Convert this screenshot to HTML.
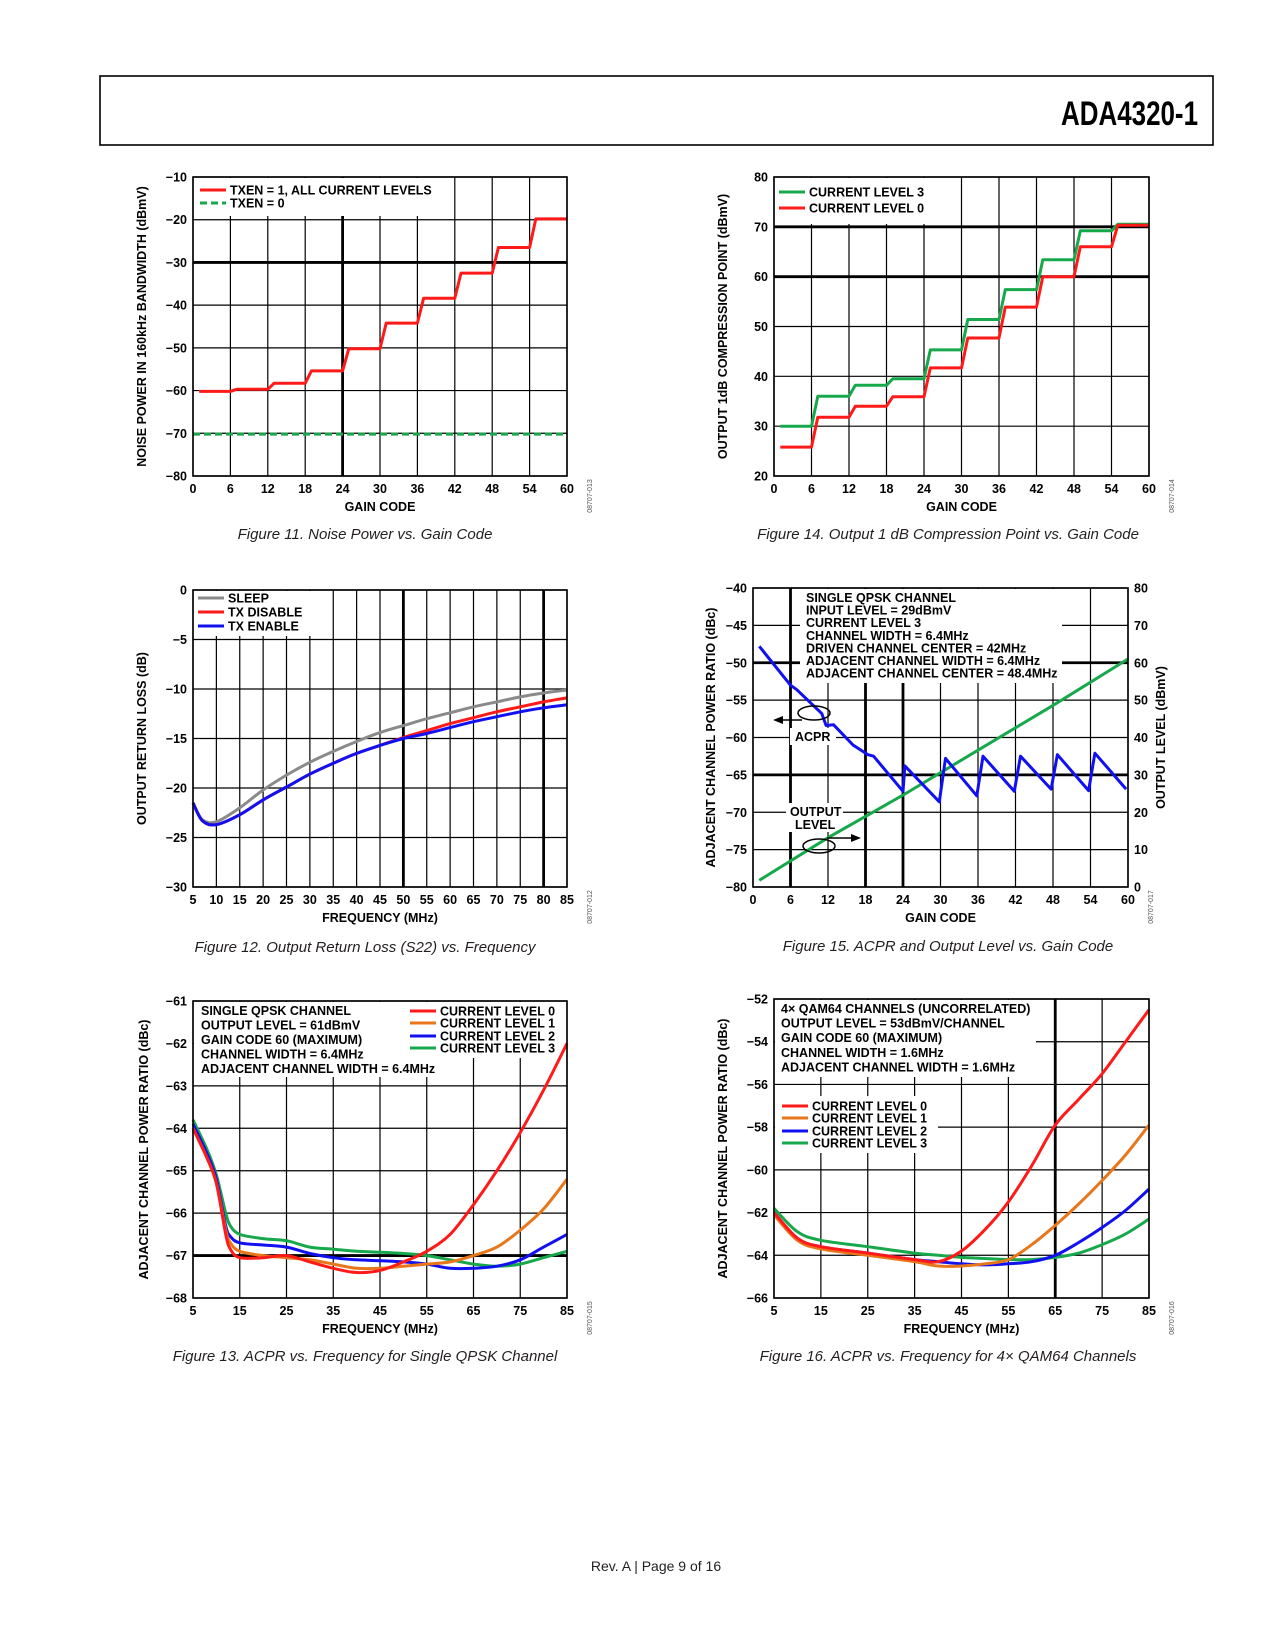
<!DOCTYPE html>
<html><head><meta charset="utf-8"><title>ADA4320-1 page 9</title>
<style>
html,body{margin:0;padding:0;background:#fff;}
svg{display:block;}
text{font-family:"Liberation Sans",sans-serif;}
.b{font-weight:bold;font-size:12.5px;fill:#000;}
.cap{font-style:italic;font-size:15px;fill:#231f20;}
</style></head>
<body>
<svg id="page" width="1275" height="1650" viewBox="0 0 1275 1650" xmlns="http://www.w3.org/2000/svg">
<rect x="100" y="76" width="1113" height="69" fill="none" stroke="#000" stroke-width="1.6"/>
<text x="1198" y="125" text-anchor="end" font-weight="bold" font-size="34" textLength="137" lengthAdjust="spacingAndGlyphs">ADA4320-1</text>
<text x="656" y="1571" text-anchor="middle" font-size="14" fill="#231f20">Rev. A | Page 9 of 16</text>
<text class="cap" x="365" y="539" text-anchor="middle">Figure 11. Noise Power vs. Gain Code</text>
<text class="cap" x="948" y="539" text-anchor="middle">Figure 14. Output 1 dB Compression Point vs. Gain Code</text>
<text class="cap" x="365" y="952" text-anchor="middle">Figure 12. Output Return Loss (S22) vs. Frequency</text>
<text class="cap" x="948" y="951" text-anchor="middle">Figure 15. ACPR and Output Level vs. Gain Code</text>
<text class="cap" x="365" y="1361" text-anchor="middle">Figure 13. ACPR vs. Frequency for Single QPSK Channel</text>
<text class="cap" x="948" y="1361" text-anchor="middle">Figure 16. ACPR vs. Frequency for 4× QAM64 Channels</text>
</svg>
<script>
// ---------- data ----------
const gainTicks=[0,6,12,18,24,30,36,42,48,54,60];
const segStarts=[1,7,13,19,25,31,37,43,49,55];
const fig11Noise=[-60.2,-59.7,-58.3,-55.4,-50.2,-44.2,-38.4,-32.5,-26.5,-19.8];
const fig11Off=[-70.2,-70.2];
const fig11YTicks=[-80,-70,-60,-50,-40,-30,-20,-10];
const fig14Cl3=[30,36,38.2,39.5,45.3,51.4,57.4,63.4,69.2,70.5];
const fig14Cl0=[25.8,31.8,34,35.9,41.7,47.7,53.9,60,66,70.3];
const fig14YTicks=[20,30,40,50,60,70,80];
const freq12=[5,7,10,15,20,25,30,35,40,45,50,55,60,65,70,75,80,85];
const fig12Sleep=[-21.5,-23.2,-23.4,-22,-20.2,-18.7,-17.4,-16.3,-15.3,-14.4,-13.7,-13,-12.4,-11.8,-11.3,-10.8,-10.4,-10.1];
const fig12Dis=[-21.5,-23.3,-23.7,-22.7,-21.2,-19.9,-18.6,-17.5,-16.5,-15.7,-14.9,-14.2,-13.5,-12.9,-12.3,-11.8,-11.3,-10.9];
const fig12En=[-21.5,-23.3,-23.7,-22.7,-21.2,-19.9,-18.6,-17.5,-16.5,-15.7,-15.0,-14.5,-13.9,-13.3,-12.8,-12.3,-11.9,-11.6];
const fig12XTicks=[5,10,15,20,25,30,35,40,45,50,55,60,65,70,75,80,85];
const fig12YTicks=[-30,-25,-20,-15,-10,-5,0];
const fig15AcprCodes=[1,6,7,11,11.7,12.9,16,18.4,19.3,24,24.3,29.8,30.8,35.8,36.8,41.8,42.8,47.7,48.7,53.7,54.7,59.7];
const fig15Acpr=[-47.8,-53,-53.6,-56.8,-58.4,-58.3,-61,-62.3,-62.5,-67.2,-63.8,-68.6,-62.8,-67.8,-62.5,-67.2,-62.5,-66.9,-62.3,-67.1,-62.1,-66.9];
const fig15OutCodes=[1,12,24,36,48,60];
const fig15Out=[1.8,13.2,24.6,36.6,48.6,61];
const fig15YTicks=[-80,-75,-70,-65,-60,-55,-50,-45,-40];
const fig15RTicks=[0,10,20,30,40,50,60,70,80];
const freq13=[5,8,10,12,13,15,20,25,30,35,40,45,50,55,60,65,70,75,80,85];
const fig13Cl0=[-64.0,-64.7,-65.3,-66.5,-66.85,-67.05,-67.05,-67.0,-67.15,-67.3,-67.4,-67.35,-67.15,-66.9,-66.5,-65.8,-65.0,-64.1,-63.1,-62.0];
const fig13Cl1=[-64.0,-64.7,-65.3,-66.4,-66.7,-66.9,-67.0,-67.05,-67.1,-67.2,-67.3,-67.3,-67.25,-67.2,-67.15,-67.0,-66.8,-66.4,-65.9,-65.2];
const fig13Cl2=[-63.9,-64.6,-65.2,-66.3,-66.55,-66.7,-66.75,-66.8,-66.95,-67.05,-67.1,-67.12,-67.15,-67.2,-67.3,-67.3,-67.25,-67.1,-66.8,-66.5];
const fig13Cl3=[-63.8,-64.5,-65.1,-66.0,-66.3,-66.5,-66.6,-66.65,-66.8,-66.85,-66.9,-66.92,-66.95,-67.0,-67.1,-67.2,-67.25,-67.2,-67.05,-66.9];
const freqTicks10=[5,15,25,35,45,55,65,75,85];
const fig13YTicks=[-68,-67,-66,-65,-64,-63,-62,-61];
const freq16=[5,10,15,25,35,40,45,50,55,60,65,70,75,80,85];
const fig16Cl0=[-62.0,-63.2,-63.6,-63.9,-64.2,-64.3,-63.8,-62.8,-61.5,-59.8,-57.9,-56.7,-55.5,-54.0,-52.5];
const fig16Cl1=[-62.1,-63.3,-63.7,-64.0,-64.3,-64.5,-64.5,-64.4,-64.2,-63.5,-62.6,-61.6,-60.5,-59.3,-57.9];
const fig16Cl2=[-62.0,-63.2,-63.6,-63.9,-64.2,-64.3,-64.4,-64.45,-64.4,-64.3,-64.0,-63.4,-62.7,-61.9,-60.9];
const fig16Cl3=[-61.8,-62.9,-63.3,-63.6,-63.9,-64.0,-64.1,-64.15,-64.2,-64.2,-64.1,-63.9,-63.5,-63.0,-62.3];
const fig16YTicks=[-66,-64,-62,-60,-58,-56,-54,-52];

const RED='#ff1a1a',ORG='#e8761a',BLU='#1010f0',GRN='#17a84b',GRY='#8a8a8a';
const NS='http://www.w3.org/2000/svg';
const svg=document.getElementById('page');
function el(tag,attrs,parent){const e=document.createElementNS(NS,tag);for(const k in attrs)e.setAttribute(k,attrs[k]);(parent||svg).appendChild(e);return e;}
function txt(x,y,s,cls,anchor,parent){const t=el('text',{x:x,y:y,class:cls||'b','text-anchor':anchor||'start'},parent);t.textContent=s;return t;}

function makeChart(c){
  const g=el('g',{});
  
  
  c.sx=v=>c.x0+(v-c.xmin)/(c.xmax-c.xmin)*(c.x1-c.x0);
  c.sy=v=>c.y1-(v-c.ymin)/(c.ymax-c.ymin)*(c.y1-c.y0);
  c.g=g;
  const grid=el('g',{},g);
  
  
  c.xTicks.forEach(v=>{const X=c.sx(v);const th=(c.thickX||[]).includes(v);
    el('line',{x1:X,x2:X,y1:c.y0,y2:c.y1,stroke:'#000','stroke-width':th?2.8:1.2},grid);
    const t=txt(X,c.y1+17,String(v).replace('-','−'),'b','middle',g);
    
    });
  c.yTicks.forEach(v=>{const Y=c.sy(v);const th=(c.thickY||[]).includes(v);
    el('line',{x1:c.x0,x2:c.x1,y1:Y,y2:Y,stroke:'#000','stroke-width':th?2.8:1.2},grid);
    const t=txt(c.x0-6,Y+4.5,String(v).replace('-','−'),'b','end',g);
    
    });
  (c.boxes||[]).forEach(b=>el('rect',{x:b[0],y:b[1],width:b[2]-b[0],height:b[3]-b[1],fill:'#fff'},g));
  const xt=txt((c.x0+c.x1)/2,c.y1+35,c.xTitle,'b','middle',g);
  
  
  const yc=(c.y0+c.y1)/2;
  const yt=txt(c.yTitleX,yc,c.yTitle,'b','middle',g);
  yt.setAttribute('transform','rotate(-90 '+c.yTitleX+' '+yc+')');
  
  
  const code=txt(c.x1+25,c.y1+20,c.code,'b','middle',g);
  code.setAttribute('style','font-size:7px;font-weight:normal;fill:#555');
  code.setAttribute('transform','rotate(-90 '+(c.x1+25)+' '+(c.y1+20)+')');
  
  
  return c;
}
function frame(c){const r=el('rect',{x:c.x0,y:c.y0,width:c.x1-c.x0,height:c.y1-c.y0,fill:'none',stroke:'#000','stroke-width':1.6},c.g);
  
  }
function series(c,xs,ys,color,name,opts){opts=opts||{};
  const sy=opts.sy||c.sy;
  const P=xs.map((x,i)=>[c.sx(x),sy(ys[i])]);
  let d='M'+P[0][0].toFixed(1)+','+P[0][1].toFixed(1);
  if(opts.smooth){
    for(let i=0;i<P.length-1;i++){const p0=P[Math.max(0,i-1)],p1=P[i],p2=P[i+1],p3=P[Math.min(P.length-1,i+2)];
      const c1=[p1[0]+(p2[0]-p0[0])/6,p1[1]+(p2[1]-p0[1])/6],c2=[p2[0]-(p3[0]-p1[0])/6,p2[1]-(p3[1]-p1[1])/6];
      d+=' C'+c1[0].toFixed(1)+','+c1[1].toFixed(1)+' '+c2[0].toFixed(1)+','+c2[1].toFixed(1)+' '+p2[0].toFixed(1)+','+p2[1].toFixed(1);}
  } else {for(let i=1;i<P.length;i++)d+=' L'+P[i][0].toFixed(1)+','+P[i][1].toFixed(1);}
  const p=el('path',{d:d,fill:'none',stroke:color,'stroke-width':opts.w||3,'stroke-linejoin':'round','stroke-dasharray':opts.dash||'none'},c.g);
  
  return p;}
function stepSeries(c,levels,color,name){const xs=[],ys=[];
  levels.forEach((L,i)=>{const s=segStarts[i];const e=i<levels.length-1?segStarts[i+1]-1:60;xs.push(s,e);ys.push(L,L);});
  return series(c,xs,ys,color,name);}
function legend(c,x,y,color,label,dash,w){
  const l=el('line',{x1:x,x2:x+26,y1:y,y2:y,stroke:color,'stroke-width':w||3,'stroke-dasharray':dash||'none'},c.g);
  
  
  const t=txt(x+30,y+4.5,label,'b','start',c.g);
  
  }
function note(c,x,y,lines,step){lines.forEach((s,i)=>{const t=txt(x,y+i*step,s,'b','start',c.g);
  
  });}

// ---------- Figure 11 ----------
const c11=makeChart({name:'figure-11-noise-power-chart',x0:193,x1:567,y0:177,y1:476,xmin:0,xmax:60,ymin:-80,ymax:-10,
  xTicks:gainTicks,yTicks:fig11YTicks,thickX:[24],thickY:[-30],xTitle:'GAIN CODE',yTitle:'NOISE POWER IN 160kHz BANDWIDTH (dBmV)',yTitleX:146,code:'08707-013',
  boxes:[[194,178,445,216]]});
series(c11,[0,60],fig11Off,GRN,'series-txen-0',{dash:'7,4'});
stepSeries(c11,fig11Noise,RED,'series-txen-1');
frame(c11);
legend(c11,200,190,RED,'TXEN = 1, ALL CURRENT LEVELS');
legend(c11,200,203,GRN,'TXEN = 0','7,4');

// ---------- Figure 14 ----------
const c14=makeChart({name:'figure-14-compression-chart',x0:774,x1:1149,y0:177,y1:476,xmin:0,xmax:60,ymin:20,ymax:80,
  xTicks:gainTicks,yTicks:fig14YTicks,thickY:[60,70],xTitle:'GAIN CODE',yTitle:'OUTPUT 1dB COMPRESSION POINT (dBmV)',yTitleX:727,code:'08707-014',
  boxes:[[775,178,925,224]]});
stepSeries(c14,fig14Cl3,GRN,'series-current-level-3');
stepSeries(c14,fig14Cl0,RED,'series-current-level-0');
frame(c14);
legend(c14,779,192,GRN,'CURRENT LEVEL 3');
legend(c14,779,208,RED,'CURRENT LEVEL 0');

// ---------- Figure 12 ----------
const c12=makeChart({name:'figure-12-return-loss-chart',x0:193,x1:567,y0:590,y1:887,xmin:5,xmax:85,ymin:-30,ymax:0,
  xTicks:fig12XTicks,yTicks:fig12YTicks,thickX:[50,80],xTitle:'FREQUENCY (MHz)',yTitle:'OUTPUT RETURN LOSS (dB)',yTitleX:146,code:'08707-012',
  boxes:[[194,591,316,636]]});
series(c12,freq12,fig12Sleep,GRY,'series-sleep',{smooth:1});
series(c12,freq12,fig12Dis,RED,'series-tx-disable',{smooth:1});
series(c12,freq12,fig12En,BLU,'series-tx-enable',{smooth:1});
frame(c12);
legend(c12,198,598,GRY,'SLEEP');
legend(c12,198,612,RED,'TX DISABLE');
legend(c12,198,626,BLU,'TX ENABLE');

// ---------- Figure 15 ----------
const c15=makeChart({name:'figure-15-acpr-output-chart',x0:753,x1:1128,y0:588,y1:887,xmin:0,xmax:60,ymin:-80,ymax:-40,
  xTicks:gainTicks,yTicks:fig15YTicks,thickX:[6,18,24],thickY:[-50,-65],xTitle:'GAIN CODE',yTitle:'ADJACENT CHANNEL POWER RATIO (dBc)',yTitleX:715,code:'08707-017',
  boxes:[[800,589,1062,683],[790,728,836,745],[786,803,843,832]]});
const syR=v=>c15.y1-v/80*(c15.y1-c15.y0);
fig15RTicks.forEach(v=>{const t=txt(c15.x1+6,syR(v)+4.5,String(v),'b','start',c15.g);
  
  });
{const rx=1165,yc=(588+887)/2;const t=txt(rx,yc,'OUTPUT LEVEL (dBmV)','b','middle',c15.g);
  t.setAttribute('transform','rotate(-90 '+rx+' '+yc+')');
  
  }
series(c15,fig15OutCodes,fig15Out,GRN,'series-output-level',{sy:syR});
series(c15,fig15AcprCodes,fig15Acpr,BLU,'series-acpr');
frame(c15);
note(c15,806,602,['SINGLE QPSK CHANNEL','INPUT LEVEL = 29dBmV','CURRENT LEVEL 3','CHANNEL WIDTH = 6.4MHz','DRIVEN CHANNEL CENTER = 42MHz','ADJACENT CHANNEL WIDTH = 6.4MHz','ADJACENT CHANNEL CENTER = 48.4MHz'],12.6);
note(c15,795,741,['ACPR'],12);
note(c15,790,816,['OUTPUT'],12);
note(c15,795,829,['LEVEL'],12);
el('ellipse',{cx:814,cy:713,rx:16,ry:7,fill:'none',stroke:'#000','stroke-width':1.5},c15.g);
el('ellipse',{cx:819,cy:846,rx:16,ry:7,fill:'none',stroke:'#000','stroke-width':1.5},c15.g);
el('line',{x1:802,x2:778,y1:720,y2:720,stroke:'#000','stroke-width':1.5},c15.g);
el('polygon',{points:'773,720 783,716 783,724',fill:'#000'},c15.g);
el('line',{x1:827,x2:855,y1:838,y2:838,stroke:'#000','stroke-width':1.5},c15.g);
el('polygon',{points:'861,838 851,834 851,842',fill:'#000'},c15.g);

// ---------- Figure 13 ----------
const c13=makeChart({name:'figure-13-acpr-qpsk-chart',x0:193,x1:567,y0:1001,y1:1298,xmin:5,xmax:85,ymin:-68,ymax:-61,
  xTicks:freqTicks10,yTicks:fig13YTicks,thickY:[-67],xTitle:'FREQUENCY (MHz)',yTitle:'ADJACENT CHANNEL POWER RATIO (dBc)',yTitleX:148,code:'08707-015',
  boxes:[[194,1002,435,1077],[405,1002,566,1058]]});
series(c13,freq13,fig13Cl3,GRN,'series-current-level-3',{smooth:1});
series(c13,freq13,fig13Cl2,BLU,'series-current-level-2',{smooth:1});
series(c13,freq13,fig13Cl1,ORG,'series-current-level-1',{smooth:1});
series(c13,freq13,fig13Cl0,RED,'series-current-level-0',{smooth:1});
frame(c13);
note(c13,201,1015,['SINGLE QPSK CHANNEL','OUTPUT LEVEL = 61dBmV','GAIN CODE 60 (MAXIMUM)','CHANNEL WIDTH = 6.4MHz','ADJACENT CHANNEL WIDTH = 6.4MHz'],14.5);
legend(c13,410,1011,RED,'CURRENT LEVEL 0');
legend(c13,410,1023,ORG,'CURRENT LEVEL 1');
legend(c13,410,1036,BLU,'CURRENT LEVEL 2');
legend(c13,410,1048,GRN,'CURRENT LEVEL 3');

// ---------- Figure 16 ----------
const c16=makeChart({name:'figure-16-acpr-qam64-chart',x0:774,x1:1149,y0:999,y1:1298,xmin:5,xmax:85,ymin:-66,ymax:-52,
  xTicks:freqTicks10,yTicks:fig16YTicks,thickX:[65],xTitle:'FREQUENCY (MHz)',yTitle:'ADJACENT CHANNEL POWER RATIO (dBc)',yTitleX:727,code:'08707-016',
  boxes:[[775,1000,1036,1077],[775,1096,938,1153]]});
series(c16,freq16,fig16Cl3,GRN,'series-current-level-3',{smooth:1});
series(c16,freq16,fig16Cl2,BLU,'series-current-level-2',{smooth:1});
series(c16,freq16,fig16Cl1,ORG,'series-current-level-1',{smooth:1});
series(c16,freq16,fig16Cl0,RED,'series-current-level-0',{smooth:1});
frame(c16);
note(c16,781,1013,['4× QAM64 CHANNELS (UNCORRELATED)','OUTPUT LEVEL = 53dBmV/CHANNEL','GAIN CODE 60 (MAXIMUM)','CHANNEL WIDTH = 1.6MHz','ADJACENT CHANNEL WIDTH = 1.6MHz'],14.6);
legend(c16,782,1106,RED,'CURRENT LEVEL 0');
legend(c16,782,1118,ORG,'CURRENT LEVEL 1');
legend(c16,782,1131,BLU,'CURRENT LEVEL 2');
legend(c16,782,1143,GRN,'CURRENT LEVEL 3');
</script>
</body></html>
